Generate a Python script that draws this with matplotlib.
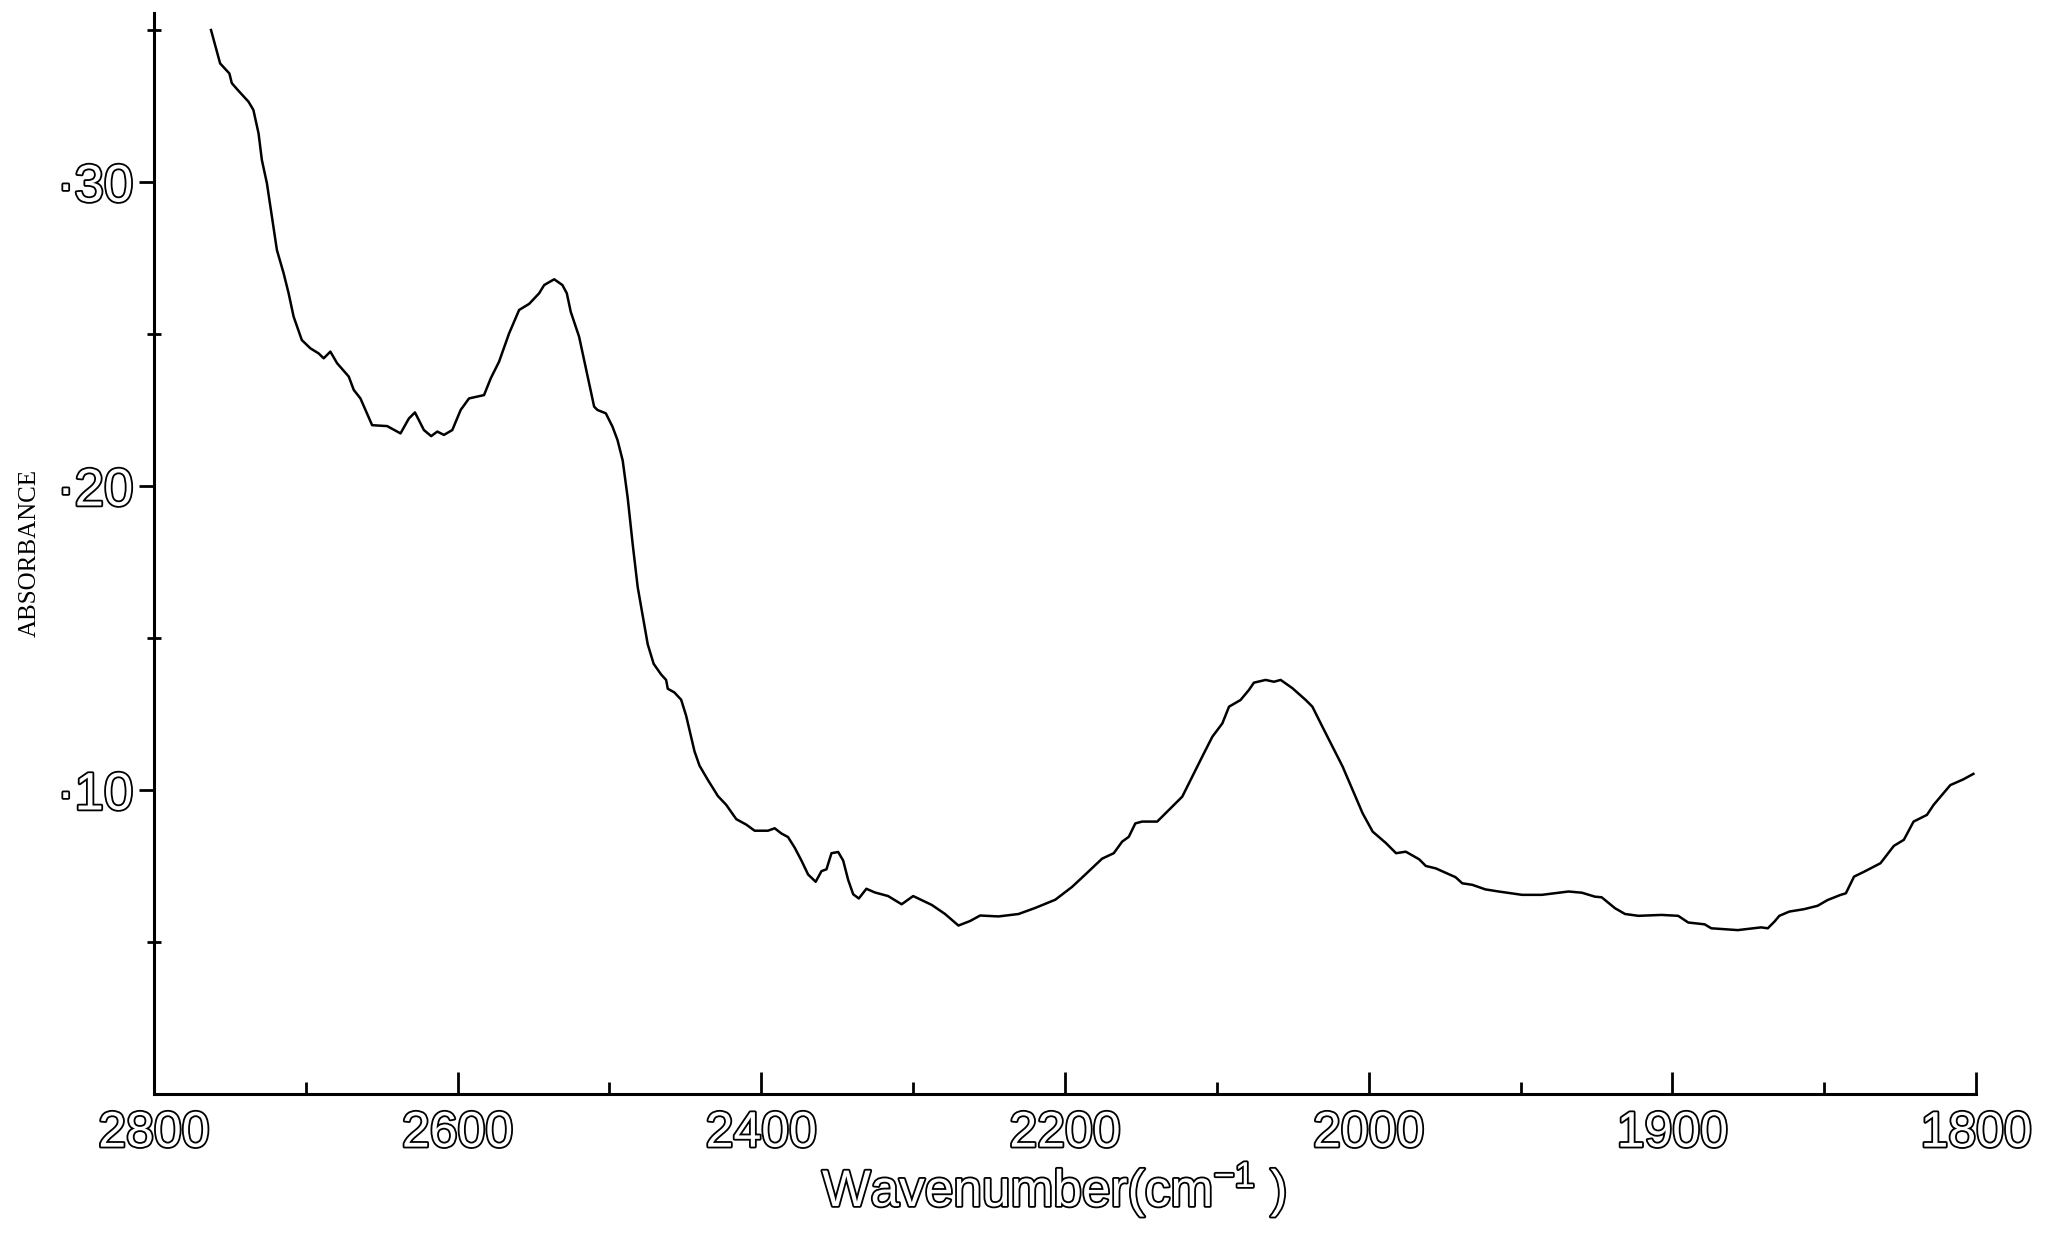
import numpy as np
import matplotlib
matplotlib.use("Agg")
import matplotlib.pyplot as plt
from matplotlib import font_manager
from matplotlib.ticker import FixedLocator, FuncFormatter
import matplotlib.patheffects as pe

# IR absorbance spectrum, 2800-1800 cm-1 (scale expands x2 below 2000 cm-1)
wavenumber = [
    2762.4, 2756.4, 2750.3, 2748.7, 2744.3, 2737.7, 2734.5, 2731.1, 2728.9, 2725.6,
    2722.3, 2719.0, 2714.6, 2711.3, 2708.0, 2702.6, 2697.0, 2691.5, 2688.2, 2683.8,
    2679.4, 2671.7, 2668.4, 2664.0, 2656.3, 2646.4, 2637.6, 2632.1, 2628.1, 2622.2,
    2617.4, 2613.4, 2609.0, 2603.5, 2598.0, 2592.5, 2582.6, 2578.2, 2572.7, 2566.1,
    2559.5, 2552.9, 2546.3, 2543.0, 2536.4, 2531.0, 2528.1, 2525.5, 2520.0, 2516.7,
    2513.4, 2510.1, 2507.9, 2502.4, 2498.0, 2494.7, 2491.3, 2488.0, 2484.7, 2481.4,
    2478.1, 2474.8, 2470.9, 2466.0, 2462.7, 2461.6, 2457.3, 2452.8, 2449.5, 2446.2,
    2444.0, 2440.7, 2435.2, 2428.6, 2423.1, 2416.5, 2409.9, 2404.4, 2395.6, 2391.2,
    2386.8, 2382.4, 2378.0, 2373.6, 2369.2, 2364.2, 2360.4, 2357.1, 2353.8, 2349.4,
    2346.1, 2342.8, 2339.5, 2335.8, 2330.8, 2325.3, 2316.5, 2307.6, 2300.0, 2287.8,
    2279.0, 2270.2, 2262.5, 2255.9, 2243.8, 2230.6, 2219.6, 2206.4, 2195.4, 2186.6,
    2175.6, 2167.9, 2162.4, 2158.0, 2153.7, 2149.2, 2139.3, 2134.9, 2129.4, 2122.8,
    2116.2, 2109.6, 2103.0, 2096.4, 2092.0, 2084.4, 2078.9, 2075.6, 2067.9, 2062.4,
    2058.0, 2050.3, 2041.5, 2037.1, 2030.5, 2023.8, 2017.2, 2010.6, 2004.0, 1998.7,
    1994.3, 1991.0, 1987.8, 1983.4, 1981.2, 1977.9, 1971.4, 1969.2, 1965.9, 1961.6,
    1957.2, 1949.5, 1943.0, 1934.2, 1929.8, 1925.5, 1923.3, 1918.9, 1915.6, 1911.2,
    1903.6, 1898.1, 1894.8, 1889.4, 1887.2, 1878.5, 1870.8, 1868.6, 1866.4, 1864.8,
    1861.5, 1856.6, 1852.2, 1848.9, 1844.6, 1842.9, 1840.2, 1836.9, 1831.5, 1827.1,
    1823.8, 1820.6, 1816.2, 1814.0, 1808.5, 1804.2, 1800.9]
absorbance = [
    0.3500, 0.3390, 0.3357, 0.3325, 0.3300, 0.3264, 0.3237, 0.3160, 0.3072, 0.2996,
    0.2886, 0.2776, 0.2700, 0.2634, 0.2557, 0.2480, 0.2453, 0.2436, 0.2420, 0.2442,
    0.2404, 0.2360, 0.2316, 0.2288, 0.2200, 0.2197, 0.2173, 0.2222, 0.2242, 0.2184,
    0.2164, 0.2179, 0.2168, 0.2184, 0.2250, 0.2288, 0.2299, 0.2354, 0.2409, 0.2502,
    0.2579, 0.2599, 0.2634, 0.2661, 0.2680, 0.2661, 0.2634, 0.2573, 0.2491, 0.2414,
    0.2338, 0.2261, 0.2250, 0.2239, 0.2195, 0.2151, 0.2084, 0.1961, 0.1808, 0.1667,
    0.1573, 0.1479, 0.1415, 0.1380, 0.1362, 0.1333, 0.1321, 0.1297, 0.1244, 0.1174,
    0.1127, 0.1080, 0.1033, 0.0980, 0.0951, 0.0904, 0.0886, 0.0866, 0.0866, 0.0874,
    0.0857, 0.0845, 0.0810, 0.0768, 0.0722, 0.0698, 0.0733, 0.0739, 0.0792, 0.0796,
    0.0768, 0.0704, 0.0657, 0.0643, 0.0675, 0.0663, 0.0651, 0.0624, 0.0651, 0.0622,
    0.0592, 0.0554, 0.0569, 0.0587, 0.0584, 0.0592, 0.0612, 0.0639, 0.0681, 0.0722,
    0.0774, 0.0792, 0.0830, 0.0846, 0.0890, 0.0896, 0.0896, 0.0918, 0.0945, 0.0978,
    0.1044, 0.1110, 0.1175, 0.1219, 0.1274, 0.1296, 0.1329, 0.1353, 0.1362, 0.1356,
    0.1362, 0.1335, 0.1296, 0.1274, 0.1208, 0.1142, 0.1077, 0.1000, 0.0923, 0.0863,
    0.0825, 0.0792, 0.0797, 0.0772, 0.0750, 0.0742, 0.0713, 0.0693, 0.0688, 0.0673,
    0.0666, 0.0655, 0.0655, 0.0666, 0.0662, 0.0649, 0.0647, 0.0611, 0.0592, 0.0586,
    0.0589, 0.0586, 0.0564, 0.0558, 0.0545, 0.0539, 0.0548, 0.0545, 0.0567, 0.0586,
    0.0600, 0.0608, 0.0619, 0.0638, 0.0655, 0.0660, 0.0715, 0.0731, 0.0759, 0.0816,
    0.0836, 0.0896, 0.0918, 0.0951, 0.1016, 0.1035, 0.1053]

x_major = [2800, 2600, 2400, 2200, 2000, 1900, 1800]
x_minor = [2700, 2500, 2300, 2100, 1950, 1850]
y_major = [0.10, 0.20, 0.30]
y_minor = [0.05, 0.15, 0.25, 0.35]

installed = {f.name for f in font_manager.fontManager.ttflist}
sans = next((f for f in ["Liberation Sans Narrow", "Liberation Sans", "DejaVu Sans"]
             if f in installed), "DejaVu Sans")
serif = next((f for f in ["Liberation Serif", "DejaVu Serif"] if f in installed), "DejaVu Serif")
plt.rcParams["mathtext.fontset"] = "custom"
plt.rcParams["mathtext.rm"] = sans
plt.rcParams["mathtext.it"] = sans


def fwd(x):
    x = np.asarray(x, dtype=float)
    return np.where(x >= 2000, x, 2 * x - 2000)


def inv(u):
    u = np.asarray(u, dtype=float)
    return np.where(u >= 2000, u, (u + 2000) / 2)


fig = plt.figure(figsize=(20.66, 12.35), dpi=100)
ax = fig.add_axes([0.0745, 0.1142, 0.882, 0.8753])
ax.set_xscale("function", functions=(fwd, inv))
ax.plot(wavenumber, absorbance, color="black", lw=1.8, solid_joinstyle="round")

ax.set_xlim(2800, 1800)
ax.set_ylim(0, 0.3556)

for s in ("top", "right"):
    ax.spines[s].set_visible(False)
for s in ("left", "bottom"):
    ax.spines[s].set_linewidth(2.2)

ax.xaxis.set_major_locator(FixedLocator(x_major))
ax.xaxis.set_minor_locator(FixedLocator(x_minor))
ax.xaxis.set_major_formatter(FuncFormatter(lambda v, p: f"{v:.0f}"))
ax.xaxis.set_minor_formatter(FuncFormatter(lambda v, p: ""))
ax.yaxis.set_major_locator(FixedLocator(y_major))
ax.yaxis.set_minor_locator(FixedLocator(y_minor))
ax.yaxis.set_major_formatter(FuncFormatter(lambda v, p: "\u00b7%02d" % round(v * 100)))
ax.yaxis.set_minor_formatter(FuncFormatter(lambda v, p: ""))

ax.tick_params(axis="x", which="major", direction="in", length=16, width=2, pad=12)
ax.tick_params(axis="x", which="minor", direction="in", length=9, width=2)
ax.tick_params(axis="y", which="major", direction="out", length=11, width=2, pad=4)
ax.tick_params(axis="y", which="minor", direction="inout", length=10, width=2)

outline = [pe.withStroke(linewidth=2.6, foreground="black")]
for lab in ax.get_xticklabels():
    lab.set_fontfamily(sans)
    lab.set_fontsize(36)
    lab.set_color("white")
    lab.set_path_effects(outline)
for lab in ax.get_yticklabels():
    lab.set_fontfamily(sans)
    lab.set_fontsize(38)
    lab.set_color("white")
    lab.set_path_effects(outline)

ax.set_xlabel("Wavenumber(cm$^{-1}$ )", fontfamily=sans, fontsize=37,
              color="white", path_effects=outline)
ax.xaxis.set_label_coords(0.494, -0.060)
ax.set_ylabel("ABSORBANCE", fontfamily=serif, fontsize=18)
ax.yaxis.set_label_coords(-0.062, 0.50)

fig.savefig("out.png", dpi=100, facecolor="white")
